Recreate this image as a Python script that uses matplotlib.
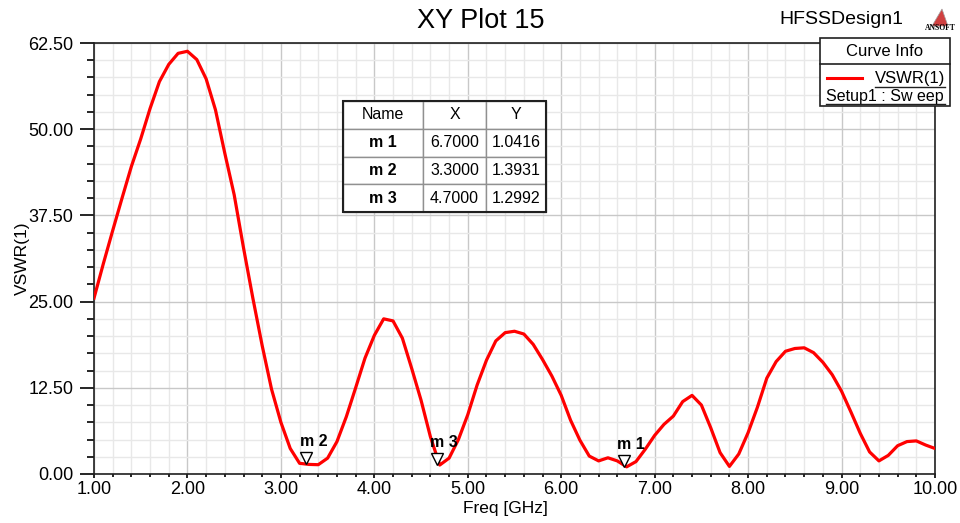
import numpy as np
import matplotlib
matplotlib.use('Agg')
import matplotlib.pyplot as plt
from matplotlib.ticker import MultipleLocator, FormatStrFormatter
from matplotlib.patches import Rectangle, Polygon
from matplotlib.lines import Line2D

plt.rcParams['font.family'] = ['Liberation Sans', 'DejaVu Sans']

# данные кривой VSWR(1), шаг 0.1 ГГц
freq = np.round(np.arange(1.0, 10.01, 0.1), 1)
vswr = [25.5, 30.5, 35.3, 40.0, 44.6, 48.6, 53.0, 56.9, 59.4, 61.0,
        61.3, 60.1, 57.3, 52.8, 46.5, 40.5, 32.8, 25.5, 18.6, 12.3,
        7.5, 3.7, 1.55, 1.39, 1.35, 2.3, 4.7, 8.3, 12.5, 16.8,
        20.1, 22.5, 22.2, 19.7, 15.3, 10.7, 5.4, 1.30, 2.3, 5.0,
        8.6, 12.9, 16.5, 19.3, 20.5, 20.7, 20.3, 18.8, 16.6, 14.2,
        11.4, 7.8, 4.9, 2.6, 1.9, 2.35, 1.9, 1.04, 1.8, 3.6,
        5.6, 7.2, 8.4, 10.5, 11.4, 10.0, 6.7, 3.1, 1.1, 2.9,
        6.0, 9.7, 13.9, 16.3, 17.8, 18.2, 18.3, 17.6, 16.2, 14.4,
        12.0, 9.0, 5.9, 3.2, 1.9, 2.7, 4.1, 4.7, 4.8, 4.2,
        3.7]

# маркеры
marker_names = ['m1', 'm2', 'm3']
marker_x = [6.7, 3.3, 4.7]
marker_y = [1.0416, 1.3931, 1.2992]

fig = plt.figure(figsize=(9.6, 5.23), dpi=100)
ax = fig.add_axes([94/960, 1-474/523, 841/960, 431/523])

ax.plot(freq, vswr, color='#ff0000', lw=2.3, zorder=3)

ax.set_xlim(1, 10)
ax.set_ylim(0, 62.5)
ax.xaxis.set_major_locator(MultipleLocator(1))
ax.xaxis.set_minor_locator(MultipleLocator(0.2))
ax.yaxis.set_major_locator(MultipleLocator(12.5))
ax.yaxis.set_minor_locator(MultipleLocator(2.5))
ax.xaxis.set_major_formatter(FormatStrFormatter('%.2f'))
ax.yaxis.set_major_formatter(FormatStrFormatter('%.2f'))
ax.grid(which='major', color='#c8c8c8', lw=1.0, zorder=1)
ax.grid(which='minor', color='#e8e8e8', lw=1.0, zorder=0)
ax.tick_params(axis='y', which='major', length=10, width=1.2, labelsize=13, pad=5)
ax.tick_params(axis='y', which='minor', length=5, width=1.2)
ax.tick_params(axis='x', which='major', length=3, width=1.2, labelsize=13, pad=2)
ax.tick_params(axis='x', which='minor', length=2, width=1.2)
for s in ax.spines.values():
    s.set_color('#202020')
    s.set_linewidth(1.2)

fig.text(505/960, 1-508/523, 'Freq [GHz]', fontsize=12.5, ha='center', va='center')
fig.text(22/960, 1-258/523, 'VSWR(1)', rotation=90, fontsize=12.5, ha='center', va='center')

# маркеры на кривой
for name, mx, my in zip(marker_names, marker_x, marker_y):
    ax.plot(mx - 0.03, my + 0.9, marker='v', ms=8, mfc='white', mec='black', mew=1.0,
            ls='none', zorder=5)
    ax.text(mx - 0.1, my + 2.2, name[0] + ' ' + name[1:], fontsize=11.5, fontweight='bold',
            ha='left', va='bottom', zorder=5)

# таблица маркеров
cells = [['m 1', '%.4f' % marker_x[0], '%.4f' % marker_y[0]],
         ['m 2', '%.4f' % marker_x[1], '%.4f' % marker_y[1]],
         ['m 3', '%.4f' % marker_x[2], '%.4f' % marker_y[2]]]
tl = (343-94)/841
tw = (546-343)/841
tb = (474-212)/431
th = (212-101)/431
tabla = ax.table(cellText=cells, colLabels=['Name', 'X', 'Y'],
                 colWidths=[80/203, 63/203, 60/203],
                 cellLoc='center', bbox=[tl, tb, tw, th], zorder=6)
tabla.auto_set_font_size(False)
tabla.set_fontsize(11.5)
for (r, c), cell in tabla.get_celld().items():
    cell.set_edgecolor('#909090')
    cell.set_linewidth(1.0)
    cell.set_facecolor('white')
    if c == 0 and r > 0:
        cell.get_text().set_fontweight('bold')
ax.add_patch(Rectangle((tl, tb), tw, th, transform=ax.transAxes, fill=False,
                       ec='#202020', lw=1.5, zorder=7, clip_on=False))

# заголовки
fig.text(481/960, 1-21/523, 'XY Plot 15', fontsize=19.5, ha='center', va='center')
fig.text(841/960, 1-20/523, 'HFSSDesign1', fontsize=14, ha='center', va='center')

# логотип
fig.patches.append(Polygon([[932/960, 1-26/523], [948/960, 1-26/523], [942/960, 1-9/523]],
                           closed=True, fc='#d04040', ec='#a0a0a0', lw=0.5,
                           transform=fig.transFigure, figure=fig))
fig.text(940/960, 1-28/523, 'ANSOFT', fontsize=5.5, family='Liberation Serif',
         fontweight='bold', ha='center', va='center')

# Curve Info
fig.patches.append(Rectangle((820/960, 1-106/523), 130/960, 68/523, fill=True,
                             fc='white', ec='#202020', lw=1.2,
                             transform=fig.transFigure, figure=fig))
fig.lines.append(Line2D([820/960, 950/960], [1-64/523, 1-64/523], color='#202020',
                        lw=1.2, transform=fig.transFigure, figure=fig))
fig.text(885/960, 1-51/523, 'Curve Info', fontsize=12, ha='center', va='center')
fig.lines.append(Line2D([827/960, 862/960], [1-78/523, 1-78/523], color='#ff0000',
                        lw=2.2, transform=fig.transFigure, figure=fig))
fig.text(945/960, 1-78/523, 'VSWR(1)', fontsize=12, ha='right', va='center')
fig.lines.append(Line2D([875/960, 945/960], [1-87/523, 1-87/523], color='#202020',
                        lw=1.0, transform=fig.transFigure, figure=fig))
fig.text(826/960, 1-96/523, 'Setup1 : Sw eep', fontsize=11.5, ha='left', va='center')
fig.lines.append(Line2D([826/960, 945/960], [1-104/523, 1-104/523], color='#202020',
                        lw=1.0, transform=fig.transFigure, figure=fig))

plt.savefig('out.png', dpi=100)
